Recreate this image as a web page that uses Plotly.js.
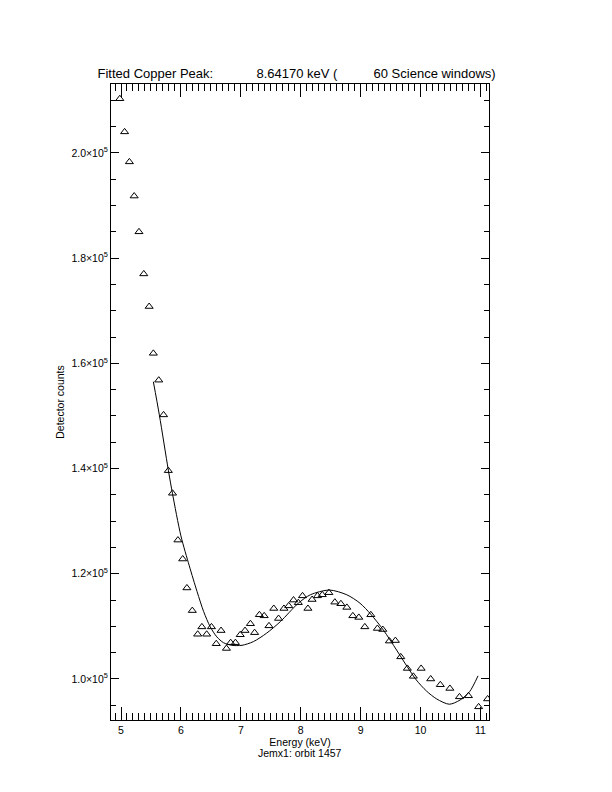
<!DOCTYPE html>
<html>
<head>
<meta charset="utf-8">
<script src="https://cdn.plot.ly/plotly-3.0.1.min.js"></script>
<style>html,body{margin:0;padding:0;background:#fff;}#chart{width:612px;height:792px;}</style>
</head>
<body>
<div id="chart"></div>
<script>
// Observed spectrum (energy in keV, detector counts)
var energy = [4.98,5.06,5.14,5.22,5.30,5.38,5.47,5.54,5.63,5.71,5.79,5.86,5.95,6.03,6.10,6.19,6.28,6.35,6.43,6.51,6.59,6.67,6.76,6.83,6.91,6.99,7.07,7.16,7.23,7.31,7.39,7.47,7.55,7.63,7.72,7.80,7.88,7.96,8.03,8.12,8.19,8.28,8.36,8.47,8.57,8.67,8.77,8.87,8.97,9.07,9.17,9.28,9.37,9.48,9.58,9.67,9.78,9.88,10.01,10.17,10.33,10.49,10.65,10.80,10.97,11.12];
var counts = [210300,204000,198300,191800,185000,177000,170800,161900,156800,150200,139600,135300,126400,122800,117300,113000,108500,109900,108500,109900,106700,109200,105800,106900,106900,108400,109200,110500,108800,112200,112000,110100,113400,111500,113400,113900,115000,114500,115800,113400,115100,115800,116000,116400,114600,114300,113600,112000,111700,109900,112200,109600,109400,107200,107300,104200,102000,100500,102000,100000,98900,98200,96600,96800,94700,96200];
// Fitted model curve (energy in keV, counts)
var fitEnergy = [5.54,5.64,5.79,5.86,6.00,6.14,6.27,6.38,6.49,6.60,6.71,6.85,7.02,7.21,7.43,7.66,7.96,8.16,8.48,8.77,8.99,9.17,9.38,9.60,9.78,9.93,10.10,10.27,10.48,10.66,10.82,10.96];
var fitCounts = [156500,150200,139700,135200,127200,121500,116600,112800,109900,108000,106900,106400,106400,107100,108700,110900,114400,116000,116900,116000,114400,112300,109300,105500,102300,99800,97700,96200,95200,96000,97600,100600];
// Axis tick labels
var xTickVals = [5,6,7,8,9,10,11];
var yTickVals = [100000,120000,140000,160000,180000,200000];
var yTickText = ['1.0×10<sup>5</sup>','1.2×10<sup>5</sup>','1.4×10<sup>5</sup>','1.6×10<sup>5</sup>','1.8×10<sup>5</sup>','2.0×10<sup>5</sup>'];

var nb = '\u00a0';
function sp(n){var s='';for(var i=0;i<n;i++)s+=nb;return s;}
var titleText = 'Fitted Copper Peak:' + sp(12) + '8.64170 keV (' + sp(10) + '60 Science windows)';

var fam = 'Liberation Sans, Arial, sans-serif';
var font = {family: fam, size: 10, color: '#000'};

var traces = [
  {x: fitEnergy, y: fitCounts, type: 'scatter', mode: 'lines',
   line: {color: '#000', width: 1, shape: 'spline', smoothing: 0.8}, hoverinfo: 'skip', showlegend: false},
  {x: energy, y: counts, type: 'scatter', mode: 'markers',
   marker: {symbol: 'triangle-up-open', size: 7, color: '#000', line: {color: '#000', width: 1}}, showlegend: false}
];

var layout = {
  width: 612, height: 792,
  margin: {l: 111, r: 123, t: 84, b: 72, pad: 0},
  paper_bgcolor: '#fff', plot_bgcolor: '#fff',
  font: font,
  showlegend: false,
  title: {text: titleText, font: {family: fam, size: 13, color: '#000'},
          xref: 'paper', x: 0.491, xanchor: 'center', yref: 'container', y: 1 - 73/792, yanchor: 'middle'},
  xaxis: {
    range: [4.833, 11.143], tickmode: 'array', tickvals: xTickVals, ticktext: xTickVals.map(String),
    ticks: 'inside', ticklen: 13, tickwidth: 1, tickcolor: '#000',
    showline: true, linecolor: '#000', linewidth: 1, mirror: 'ticks',
    showgrid: false, zeroline: false,
    minor: {tick0: 5, dtick: 0.1, ticks: 'inside', ticklen: 7, tickwidth: 1, tickcolor: '#000', showgrid: false},
    tickfont: {family: fam, size: 10.5, color: '#000'},
    title: {text: 'Energy (keV)', font: {family: fam, size: 10.5, color: '#000'}, standoff: 0}
  },
  yaxis: {
    range: [92200, 213100], tickmode: 'array', tickvals: yTickVals, ticktext: yTickText,
    ticks: 'inside', ticklen: 8, tickwidth: 1, tickcolor: '#000',
    showline: true, linecolor: '#000', linewidth: 1, mirror: 'ticks',
    showgrid: false, zeroline: false,
    minor: {tick0: 100000, dtick: 5000, ticks: 'inside', ticklen: 5, tickwidth: 1, tickcolor: '#000', showgrid: false},
    tickfont: {family: fam, size: 10.5, color: '#000'},
    title: {text: 'Detector counts', font: {family: fam, size: 10.5, color: '#000'}, standoff: 4}
  },
  annotations: [
    {text: 'Jemx1: orbit 1457', xref: 'paper', yref: 'paper', x: 0.4987, y: -(753-720)/636,
     xanchor: 'center', yanchor: 'middle', showarrow: false,
     font: {family: fam, size: 10.5, color: '#000'}}
  ]
};

Plotly.newPlot('chart', traces, layout, {staticPlot: true, displayModeBar: false});
</script>
</body>
</html>
